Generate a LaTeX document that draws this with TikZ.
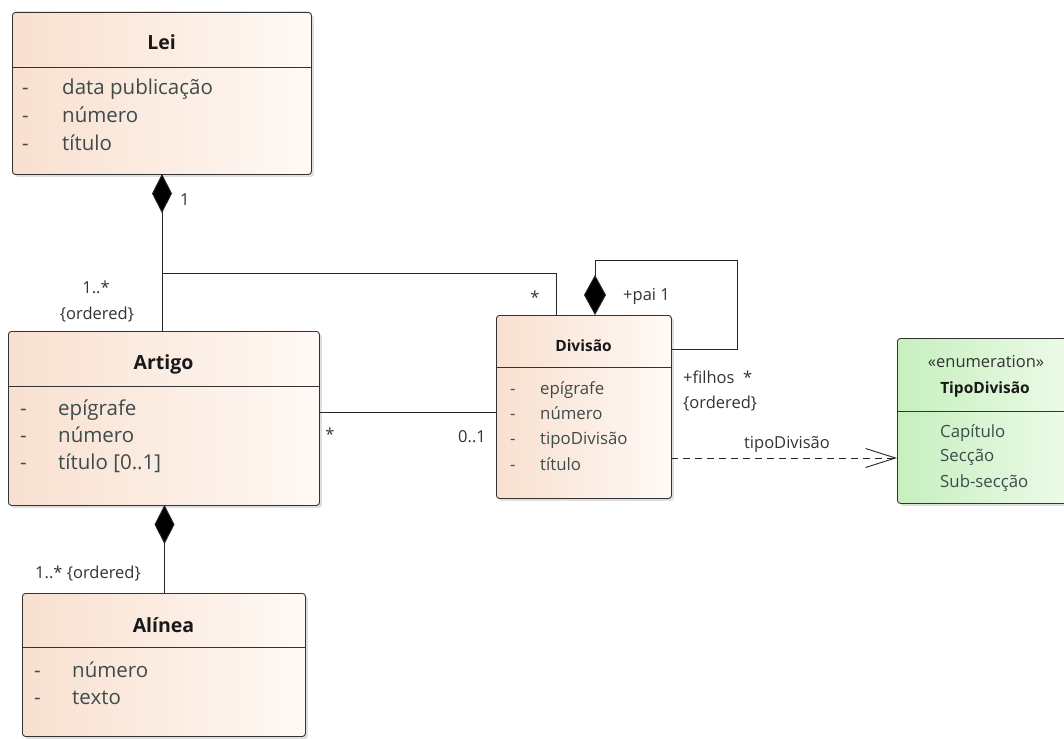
\documentclass[tikz,border=0pt]{standalone}
\usepackage{fontspec}
\setmainfont{Open Sans}
\usetikzlibrary{arrows.meta,shadows,calc}
\definecolor{attr}{HTML}{3E4B4B}
\definecolor{lbl}{HTML}{333333}
\definecolor{peachL}{HTML}{F8E0D0}
\definecolor{peachR}{HTML}{FFF9F5}
\definecolor{greenL}{HTML}{C6EFBE}
\definecolor{greenR}{HTML}{EEFBEA}
\tikzset{
  cls/.style={draw=black!80, line width=0.9pt, rounded corners=3pt, left color=peachL, right color=peachR,
     drop shadow={shadow xshift=2.5pt, shadow yshift=-2.5pt, opacity=0.25}, inner sep=0, anchor=north west},
  enm/.style={cls, left color=greenL, right color=greenR},
  ttl/.style={font=\bfseries\fontsize{19.5}{22}\selectfont, text=black!90, anchor=base, inner sep=0},
  sttl/.style={font=\bfseries\fontsize{15.5}{18}\selectfont, text=black!90, anchor=base, inner sep=0},
  att/.style={font=\fontsize{20.5}{22}\selectfont, text=attr, anchor=base west, inner sep=0},
  satt/.style={font=\fontsize{16.8}{19}\selectfont, text=attr, anchor=base west, inner sep=0},
  lab/.style={font=\fontsize{16.5}{19}\selectfont, text=lbl, inner sep=0, anchor=base},
  labw/.style={lab, anchor=base west},
  sep/.style={draw=black!80, line width=0.9pt},
  conn/.style={draw=black!85, line width=0.9pt},
  comp/.style={conn, {Diamond[length=39pt,width=20pt,fill=black]}-},
}
\begin{document}
\begin{tikzpicture}[x=1pt,y=-1pt]
\useasboundingbox (0,0) rectangle (1064,738);
% Lei
\node[cls, minimum width=299pt, minimum height=162pt] (lei) at (12,12) {};
\draw[sep] (12,67) -- (311,67);
\node[ttl] (leit) at (161.5,50) {Lei};
\node[att] (l1d) at (22,95) {-}; \node[att] (l1) at (62,95) {data publicação};
\node[att] (l2d) at (22,123) {-}; \node[att] (l2) at (62,123) {número};
\node[att] (l3d) at (22,150) {-}; \node[att] (l3) at (62,150) {título};
% Artigo
\node[cls, minimum width=311pt, minimum height=174pt] (art) at (8,331) {};
\draw[sep] (8,386) -- (319,386);
\node[ttl] (artt) at (163.5,369) {Artigo};
\node[att] (a1d) at (20,415) {-}; \node[att] (a1) at (58,415) {epígrafe};
\node[att] (a2d) at (20,442) {-}; \node[att] (a2) at (58,442) {número};
\node[att] (a3d) at (20,469) {-}; \node[att] (a3) at (58,469) {título [0..1]};
% Alinea
\node[cls, minimum width=283pt, minimum height=143pt] (ali) at (22,593) {};
\draw[sep] (22,647) -- (305,647);
\node[ttl] (alit) at (163.5,632) {Alínea};
\node[att] (n1d) at (34,677) {-}; \node[att] (n1) at (72,677) {número};
\node[att] (n2d) at (34,704) {-}; \node[att] (n2) at (72,704) {texto};
% Divisao
\node[cls, minimum width=175pt, minimum height=183pt] (div) at (496,315) {};
\draw[sep] (496,367) -- (671,367);
\node[sttl] (divt) at (583.5,351) {Divisão};
\node[satt] (d1d) at (510,394) {-}; \node[satt] (d1) at (540,394) {epígrafe};
\node[satt] (d2d) at (510,419) {-}; \node[satt] (d2) at (540,419) {número};
\node[satt] (d3d) at (510,444) {-}; \node[satt] (d3) at (540,444) {tipoDivisão};
\node[satt] (d4d) at (510,470) {-}; \node[satt] (d4) at (540,470) {título};
% TipoDivisao
\node[enm, minimum width=180pt, minimum height=165pt] (tip) at (897,338) {};
\draw[sep] (897,411) -- (1064,411);
\node[lab] (tips) at (986,367) {«enumeration»};
\node[sttl] (tipt) at (985,393) {TipoDivisão};
\node[satt] (t1) at (940,437) {Capítulo};
\node[satt] (t2) at (940,461) {Secção};
\node[satt] (t3) at (940,487) {Sub-secção};
% connectors
\coordinate (lb) at (162,174);
\coordinate (at) at (162,331);
\coordinate (jn) at (162,273);
\coordinate (dt) at (556,315);
\draw[comp] (lb) -- (at);
\draw[conn] (jn) -| (dt);
\node[labw] (m1) at (180,205) {1};
\node[lab] (m2) at (96,293) {1..*};
\node[lab] (m3) at (97,319) {\{ordered\}};
\node[lab] (m4) at (535,303) {*};
% artigo-divisao
\coordinate (ar) at (319,412);
\coordinate (dl) at (496,412);
\draw[conn] (ar) -- (dl);
\node[lab] (m5) at (330,440) {*};
\node[lab] (m6) at (472,442) {0..1};
% artigo-alinea
\coordinate (ab) at (164.5,505);
\coordinate (alt) at (164.5,593);
\draw[comp] (ab) -- (alt);
\node[lab] (m7) at (88,578) {1..* \{ordered\}};
% self loop
\coordinate (dtop) at (595,315);
\coordinate (dr) at (671,349);
\draw[conn, {Diamond[length=40pt,width=22pt,fill=black]}-] (dtop) -- (595,260) -- (737,260) -- (737,349) -- (dr);
\node[labw] (m8) at (623,300) {+pai 1};
\node[labw] (m9) at (683,383) {+filhos\ \ *};
\node[labw] (m10) at (683,408) {\{ordered\}};
% dependency
\coordinate (dd) at (671,458);
\coordinate (te) at (897,458);
\draw[conn, dashed, dash pattern=on 7pt off 5pt, -{Straight Barb[length=30pt,width=19pt]}] (dd) -- (te);
\node[lab] (m11) at (787,448) {tipoDivisão};
\end{tikzpicture}
\end{document}
